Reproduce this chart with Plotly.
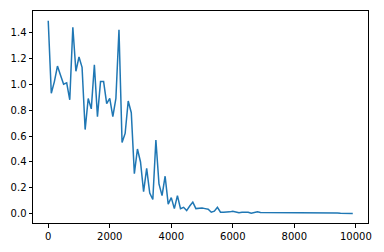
import plotly.graph_objects as go

steps = list(range(0, 10000, 100))
loss = [
    1.49, 0.93, 1.02, 1.14, 1.07, 1.00, 1.01, 0.88, 1.44, 1.10,
    1.21, 1.13, 0.65, 0.89, 0.81, 1.15, 0.75, 1.02, 1.02, 0.85,
    0.89, 0.75, 0.89, 1.42, 0.55, 0.62, 0.87, 0.78, 0.31, 0.50,
    0.40, 0.17, 0.35, 0.16, 0.11, 0.57, 0.23, 0.14, 0.29, 0.075,
    0.125, 0.04, 0.14, 0.04, 0.05, 0.025, 0.06, 0.09, 0.04, 0.045,
    0.045, 0.04, 0.035, 0.012, 0.02, 0.05, 0.012, 0.012, 0.012, 0.015,
    0.02, 0.015, 0.008, 0.012, 0.01, 0.012, 0.004, 0.008, 0.016, 0.01,
    0.01, 0.009, 0.01, 0.009, 0.01, 0.008, 0.009, 0.008, 0.009, 0.007,
    0.008, 0.007, 0.008, 0.006, 0.009, 0.006, 0.007, 0.006, 0.008, 0.005,
    0.006, 0.005, 0.006, 0.005, 0.006, 0.004, 0.005, 0.004, 0.004, 0.003,
]

x_ticks = [0, 2000, 4000, 6000, 8000, 10000]
y_ticks = [0.0, 0.2, 0.4, 0.6, 0.8, 1.0, 1.2, 1.4]

fig = go.Figure(go.Scatter(x=steps, y=loss, mode="lines",
                           line=dict(color="#1f77b4", width=1.5)))

axis_common = dict(showgrid=False, zeroline=False, showline=True, linecolor="#000",
                   linewidth=1, mirror=True, ticks="outside", ticklen=3.5,
                   tickcolor="#000", tickwidth=1,
                   tickfont=dict(family="DejaVu Sans", size=10, color="#000"))

fig.update_layout(
    width=384, height=252,
    margin=dict(l=33, r=16, t=10, b=24),
    paper_bgcolor="white", plot_bgcolor="white",
    showlegend=False,
    xaxis=dict(range=[-495, 10395], tickvals=x_ticks,
               ticktext=[str(v) for v in x_ticks], **axis_common),
    yaxis=dict(range=[-0.071, 1.565], tickvals=y_ticks,
               ticktext=[f"{v:.1f}" for v in y_ticks], **axis_common),
)

fig.write_html("out.html")
